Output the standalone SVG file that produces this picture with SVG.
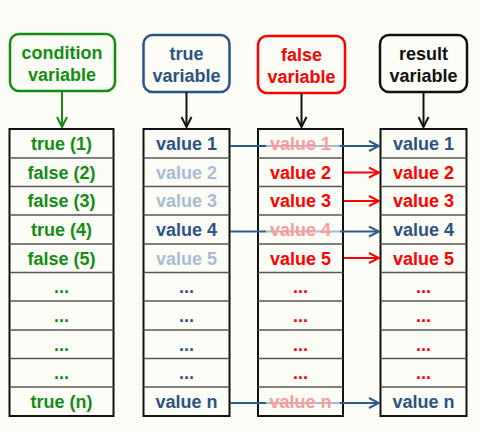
<svg xmlns="http://www.w3.org/2000/svg" width="480" height="432" viewBox="0 0 480 432">
<style>
text{font-family:"Liberation Sans",Arial,sans-serif;font-weight:bold;text-anchor:middle}
.hd{font-size:18px}
.cell{font-size:18px}
.box{fill:#fdfdf7;stroke-width:2.5}
.tbl{fill:#fdfdf7;stroke:#111;stroke-width:2}
.sep{stroke:#555;stroke-width:1.5}
.g{fill:#148c14}
.b{fill:#2b5384}
.bf{fill:#a9bcd3}
.r{fill:#ff0000}
.rf{fill:#ff9a9a}
.k{fill:#111}
</style>
<defs>
<marker id="ahK" viewBox="0 0 12 12" refX="11" refY="6" markerWidth="12" markerHeight="12" markerUnits="userSpaceOnUse" orient="auto"><path d="M1,1 L11,6 L1,11" fill="none" stroke="#111" stroke-width="2"/></marker>
<marker id="ahG" viewBox="0 0 12 12" refX="11" refY="6" markerWidth="12" markerHeight="12" markerUnits="userSpaceOnUse" orient="auto"><path d="M1,1 L11,6 L1,11" fill="none" stroke="#148c14" stroke-width="2"/></marker>
<marker id="ahB" viewBox="0 0 12 12" refX="11" refY="6" markerWidth="12" markerHeight="12" markerUnits="userSpaceOnUse" orient="auto"><path d="M1,1 L11,6 L1,11" fill="none" stroke="#2f5a8c" stroke-width="2"/></marker>
<marker id="ahR" viewBox="0 0 12 12" refX="11" refY="6" markerWidth="12" markerHeight="12" markerUnits="userSpaceOnUse" orient="auto"><path d="M1,1 L11,6 L1,11" fill="none" stroke="#ff0000" stroke-width="2"/></marker>
</defs>
<rect width="480" height="432" fill="#fdfdf7"/>

<g id="hdr-condition">
<rect class="box" x="10" y="34" width="105" height="57" rx="9" stroke="#148c14"/>
<text class="hd g" x="62" y="59">condition</text>
<text class="hd g" x="62" y="81">variable</text>
</g>
<g id="hdr-true">
<rect class="box" x="143.5" y="35" width="86" height="57" rx="9" stroke="#2b5384"/>
<text class="hd b" x="186.5" y="60">true</text>
<text class="hd b" x="186.5" y="82">variable</text>
</g>
<g id="hdr-false">
<rect class="box" x="258" y="36" width="87" height="57" rx="9" stroke="#ff0000"/>
<text class="hd r" x="301.5" y="61">false</text>
<text class="hd r" x="301.5" y="83">variable</text>
</g>
<g id="hdr-result">
<rect class="box" x="380" y="35" width="87" height="57" rx="9" stroke="#111"/>
<text class="hd k" x="423.5" y="60">result</text>
<text class="hd k" x="423.5" y="82">variable</text>
</g>

<g id="tbl-condition">
<rect class="tbl" x="9.5" y="129" width="104" height="287"/>
<path class="sep" d="M9.5,158H113.5M9.5,186.5H113.5M9.5,215H113.5M9.5,244H113.5M9.5,272.5H113.5M9.5,301H113.5M9.5,330H113.5M9.5,358.5H113.5M9.5,387H113.5"/>
<text class="cell g" x="61.5" y="150">true (1)</text>
<text class="cell g" x="61.5" y="178.5">false (2)</text>
<text class="cell g" x="61.5" y="207">false (3)</text>
<text class="cell g" x="61.5" y="236">true (4)</text>
<text class="cell g" x="61.5" y="264.5">false (5)</text>
<text class="cell g" x="61.5" y="293">...</text>
<text class="cell g" x="61.5" y="322">...</text>
<text class="cell g" x="61.5" y="350.5">...</text>
<text class="cell g" x="61.5" y="379">...</text>
<text class="cell g" x="61.5" y="408">true (n)</text>
</g>
<g id="tbl-true">
<rect class="tbl" x="143.5" y="129" width="86" height="287"/>
<path class="sep" d="M143.5,158H229.5M143.5,186.5H229.5M143.5,215H229.5M143.5,244H229.5M143.5,272.5H229.5M143.5,301H229.5M143.5,330H229.5M143.5,358.5H229.5M143.5,387H229.5"/>
<text class="cell b" x="186.5" y="150">value 1</text>
<text class="cell bf" x="186.5" y="178.5">value 2</text>
<text class="cell bf" x="186.5" y="207">value 3</text>
<text class="cell b" x="186.5" y="236">value 4</text>
<text class="cell bf" x="186.5" y="264.5">value 5</text>
<text class="cell b" x="186.5" y="293">...</text>
<text class="cell b" x="186.5" y="322">...</text>
<text class="cell b" x="186.5" y="350.5">...</text>
<text class="cell b" x="186.5" y="379">...</text>
<text class="cell b" x="186.5" y="408">value n</text>
</g>
<g id="tbl-false">
<rect class="tbl" x="258" y="129" width="85" height="287"/>
<path class="sep" d="M258,158H343M258,186.5H343M258,215H343M258,244H343M258,272.5H343M258,301H343M258,330H343M258,358.5H343M258,387H343"/>
</g>
<g id="tbl-result">
<rect class="tbl" x="380.5" y="129" width="86" height="287"/>
<path class="sep" d="M380.5,158H466.5M380.5,186.5H466.5M380.5,215H466.5M380.5,244H466.5M380.5,272.5H466.5M380.5,301H466.5M380.5,330H466.5M380.5,358.5H466.5M380.5,387H466.5"/>
<text class="cell b" x="423.5" y="150">value 1</text>
<text class="cell r" x="423.5" y="178.5">value 2</text>
<text class="cell r" x="423.5" y="207">value 3</text>
<text class="cell b" x="423.5" y="236">value 4</text>
<text class="cell r" x="423.5" y="264.5">value 5</text>
<text class="cell r" x="423.5" y="293">...</text>
<text class="cell r" x="423.5" y="322">...</text>
<text class="cell r" x="423.5" y="350.5">...</text>
<text class="cell r" x="423.5" y="379">...</text>
<text class="cell b" x="423.5" y="408">value n</text>
</g>

<g id="connectors" fill="none" stroke-width="2">
<path d="M62,91V127" stroke="#148c14" marker-end="url(#ahG)"/>
<path d="M186.5,92V127" stroke="#111" marker-end="url(#ahK)"/>
<path d="M301.5,93V127" stroke="#111" marker-end="url(#ahK)"/>
<path d="M423.5,92V127" stroke="#111" marker-end="url(#ahK)"/>
<path d="M230,146H379" stroke="#2f5a8c" marker-end="url(#ahB)"/>
<path d="M230,231.5H379" stroke="#2f5a8c" marker-end="url(#ahB)"/>
<path d="M230,403H379" stroke="#2f5a8c" marker-end="url(#ahB)"/>
<path d="M344,172.5H379" stroke="#ff0000" marker-end="url(#ahR)"/>
<path d="M344,201H379" stroke="#ff0000" marker-end="url(#ahR)"/>
<path d="M344,258H379" stroke="#ff0000" marker-end="url(#ahR)"/>
</g>

<g id="tbl-false-text">
<rect x="266" y="139" width="74" height="14" fill="#fdfdf7" fill-opacity="0.6"/>
<rect x="266" y="224.5" width="74" height="14" fill="#fdfdf7" fill-opacity="0.6"/>
<rect x="266" y="396" width="74" height="14" fill="#fdfdf7" fill-opacity="0.6"/>
<text class="cell rf" x="300.5" y="150">value 1</text>
<text class="cell r" x="300.5" y="178.5">value 2</text>
<text class="cell r" x="300.5" y="207">value 3</text>
<text class="cell rf" x="300.5" y="236">value 4</text>
<text class="cell r" x="300.5" y="264.5">value 5</text>
<text class="cell r" x="300.5" y="293">...</text>
<text class="cell r" x="300.5" y="322">...</text>
<text class="cell r" x="300.5" y="350.5">...</text>
<text class="cell r" x="300.5" y="379">...</text>
<text class="cell rf" x="300.5" y="408">value n</text>
</g>
</svg>
